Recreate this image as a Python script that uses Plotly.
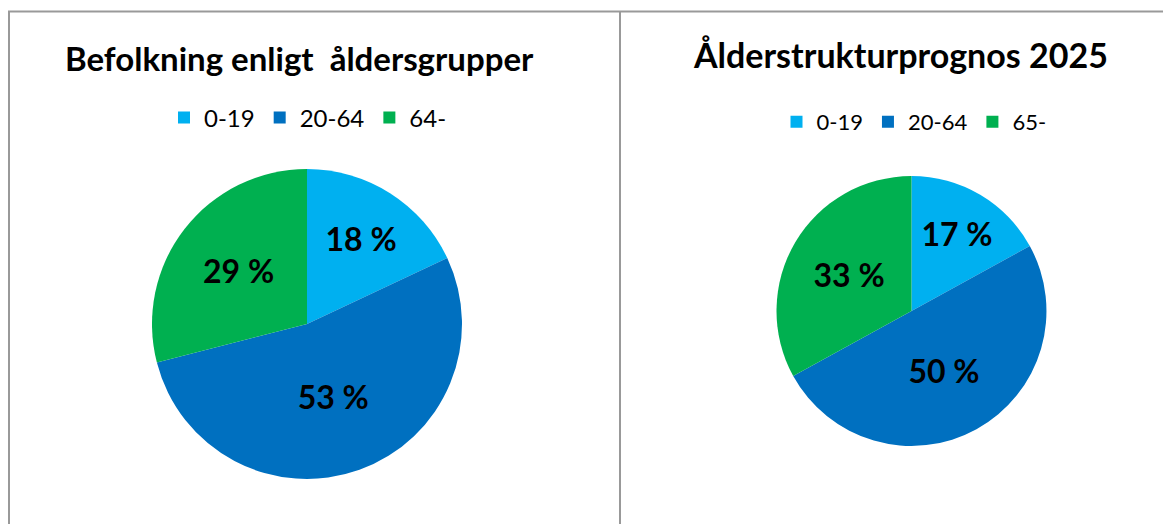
import plotly.graph_objects as go

# Data
groups_now = ["0-19", "20-64", "64-"]
shares_now = [18, 53, 29]
groups_2025 = ["0-19", "20-64", "65-"]
shares_2025 = [17, 50, 33]
colors = ["#00B0F0", "#0070C0", "#00B050"]

title_now = "Befolkning enligt\u00a0 åldersgrupper"
title_2025 = "Ålderstrukturprognos 2025"

# page body has an 8px margin; work in reference pixel coordinates
OFF = 8
W, H = 1171 - OFF, 524 - OFF
FONT = "Lato, 'Open Sans', sans-serif"


def px(x):
    return (x - OFF) / W


def py(y):
    return 1 - (y - OFF) / H


fig = go.Figure()

fig.add_trace(go.Pie(
    labels=groups_now, values=shares_now, sort=False, direction="clockwise",
    rotation=0, marker=dict(colors=colors, line=dict(width=0)),
    texttemplate="%{value} %", textposition="inside",
    insidetextorientation="horizontal",
    textfont=dict(family=FONT, size=32, color="black", weight="bold"),
    domain=dict(x=[px(152), px(462)], y=[py(479), py(169)]),
    legend="legend", hoverinfo="label+percent",
))
# zero-width space keeps the second legend's entries separate from the first
fig.add_trace(go.Pie(
    labels=[g + "\u200b" for g in groups_2025], values=shares_2025, sort=False,
    direction="clockwise",
    rotation=0, marker=dict(colors=colors, line=dict(width=0)),
    texttemplate="%{value} %", textposition="inside",
    insidetextorientation="horizontal",
    textfont=dict(family=FONT, size=32, color="black", weight="bold"),
    domain=dict(x=[px(776), px(1047)], y=[py(446), py(176)]),
    legend="legend2", hoverinfo="label+percent",
))

fig.update_layout(
    width=W, height=H, margin=dict(l=0, r=0, t=0, b=0),
    paper_bgcolor="white", plot_bgcolor="white",
    font=dict(family=FONT, color="black"),
    legend=dict(orientation="h", x=px(308), xanchor="center", y=py(118),
                yanchor="middle", font=dict(size=24, color="black"),
                itemwidth=30, traceorder="normal", bgcolor="rgba(0,0,0,0)"),
    legend2=dict(orientation="h", x=px(914), xanchor="center", y=py(122),
                 yanchor="middle", font=dict(size=22, color="black"),
                 itemwidth=30, traceorder="normal", bgcolor="rgba(0,0,0,0)"),
    annotations=[
        dict(text="<b>" + title_now + "</b>", x=px(299), y=py(58),
             xref="paper", yref="paper", showarrow=False,
             xanchor="center", yanchor="middle",
             font=dict(family=FONT, size=33, color="black")),
        dict(text="<b>" + title_2025 + "</b>", x=px(900), y=py(55),
             xref="paper", yref="paper", showarrow=False,
             xanchor="center", yanchor="middle",
             font=dict(family=FONT, size=34, color="black")),
    ],
    shapes=[
        dict(type="line", xref="paper", yref="paper", x0=0, x1=1,
             y0=py(11.5), y1=py(11.5), line=dict(color="#999999", width=2)),
        dict(type="line", xref="paper", yref="paper", x0=px(9), x1=px(9),
             y0=0, y1=py(11.5), line=dict(color="#999999", width=2)),
        dict(type="line", xref="paper", yref="paper", x0=px(620), x1=px(620),
             y0=0, y1=py(11.5), line=dict(color="#999999", width=2)),
    ],
)

fig.write_html("out.html")
